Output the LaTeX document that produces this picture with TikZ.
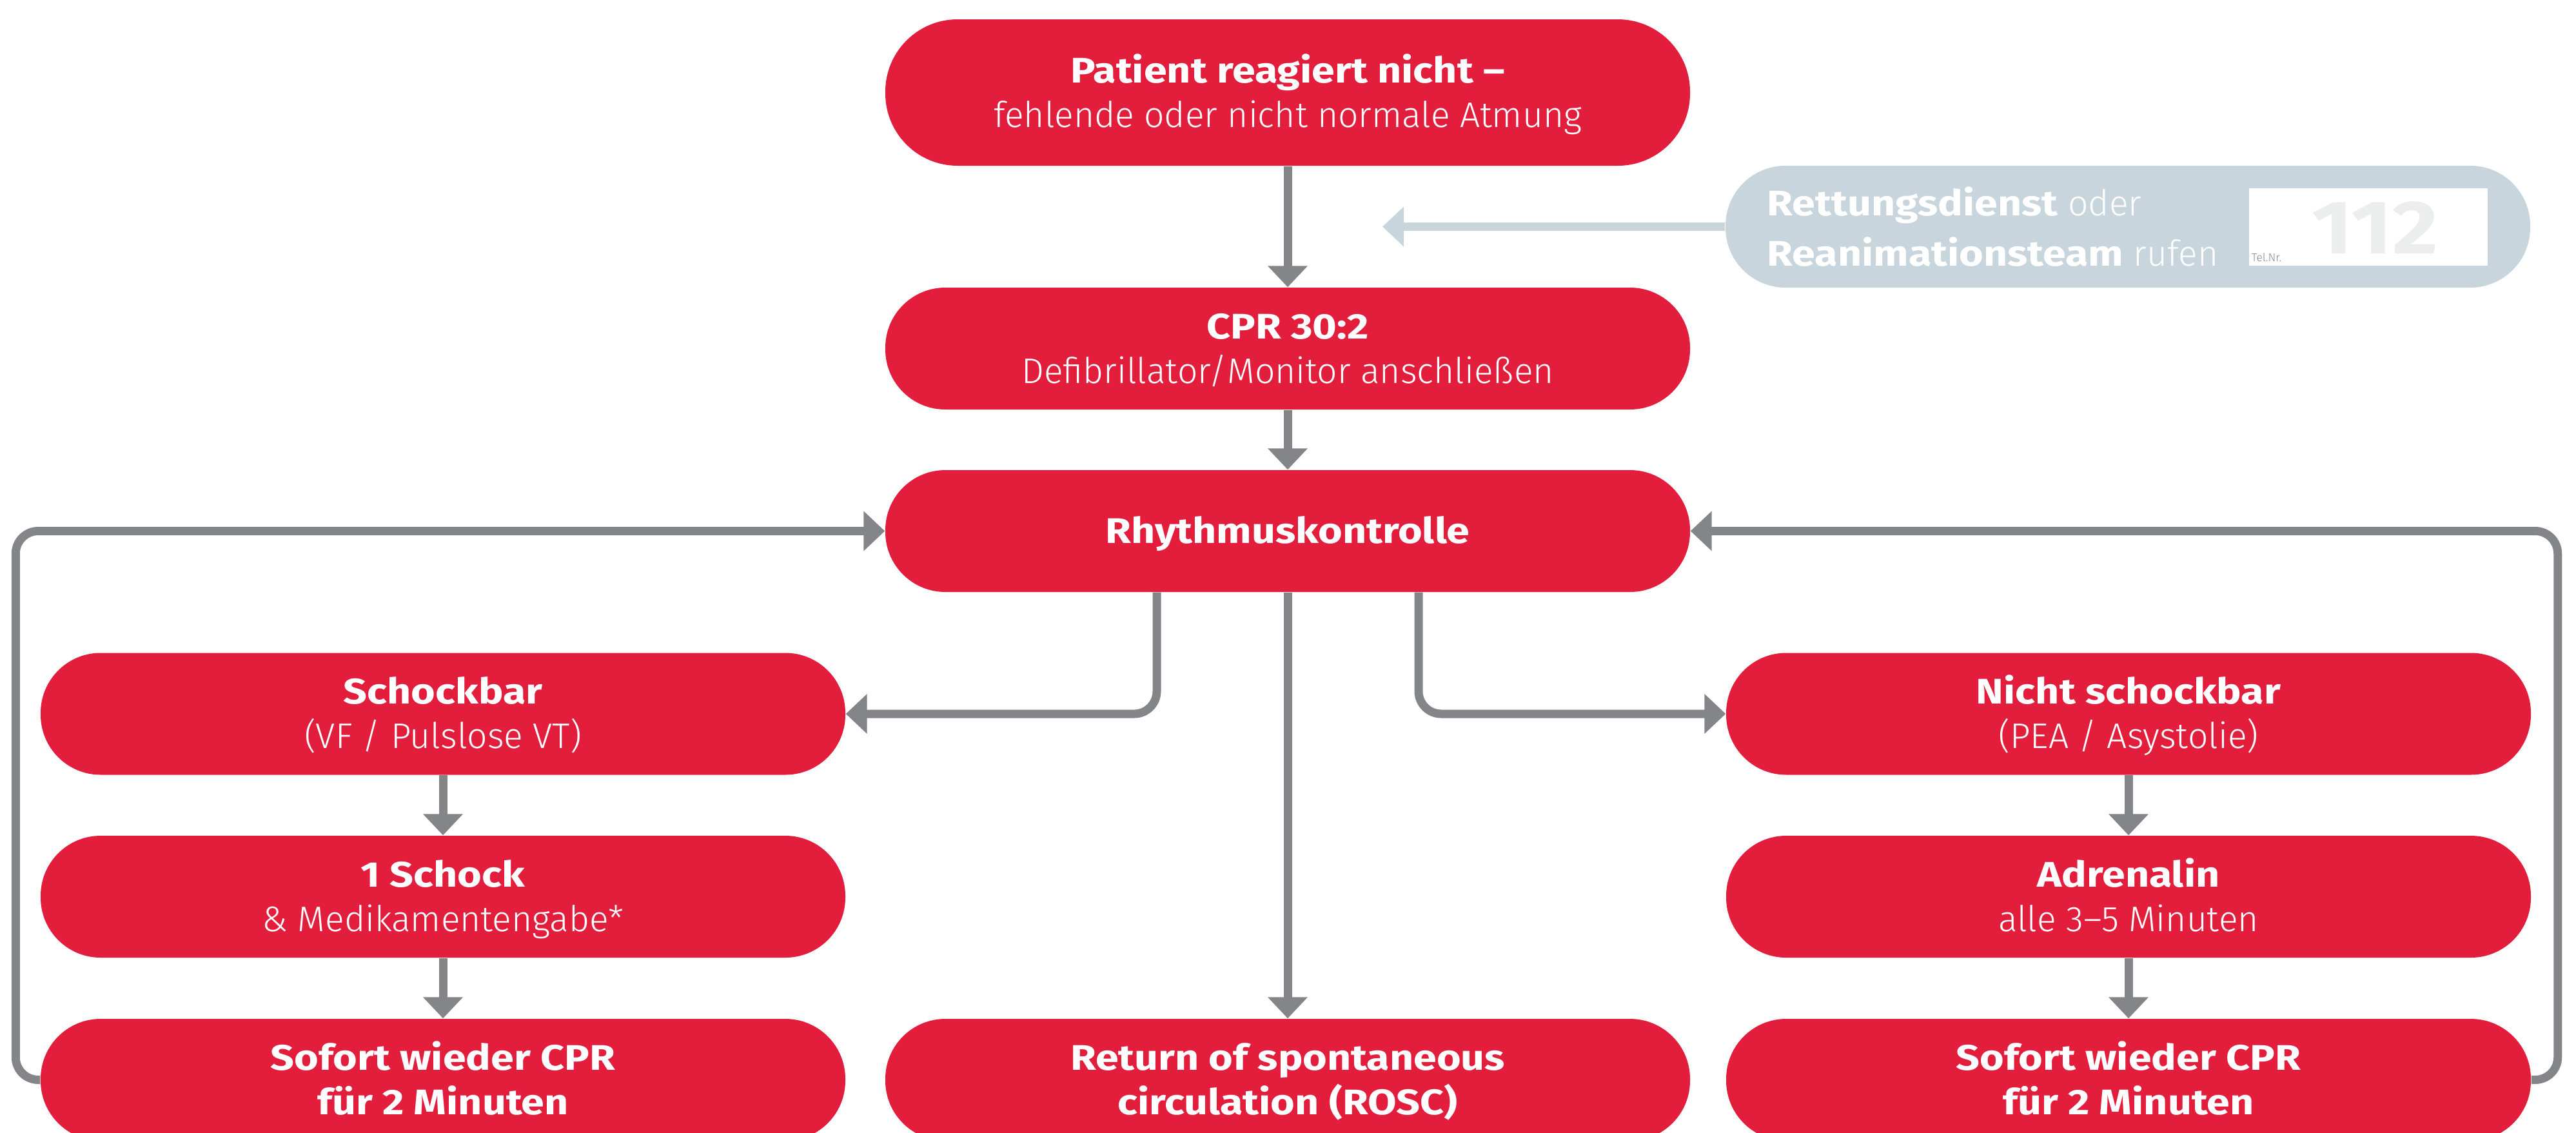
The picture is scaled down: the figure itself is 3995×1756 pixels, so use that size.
\documentclass[tikz,border=0pt]{standalone}
\usepackage{fontspec}
\setmainfont{Fira Sans}[UprightFont={* Light}, BoldFont={* Bold}, BoldFeatures={FakeStretch=1.17}]
\usetikzlibrary{arrows.meta}
\definecolor{dred}{HTML}{E31E3D}
\definecolor{agray}{HTML}{848589}
\definecolor{lgray}{HTML}{C8D5DD}
\definecolor{numgray}{HTML}{ECEDED}
\definecolor{telgray}{HTML}{8A8A8A}
\newcommand\boxfont{\fontsize{15.7pt}{19.63pt}\selectfont}
\newcommand\TL[2]{\rule{0pt}{3.8mm}\smash{#1}\\\smash{#2}}
\newcommand\OL[1]{\rule{0pt}{3.8mm}\smash{#1}}
\tikzset{
  redbox/.style={fill=dred, draw=none, rounded corners=9.3mm, minimum width=124.8mm,
    minimum height=18.9mm, text=white, align=center, inner sep=0pt, font=\boxfont},
  arr/.style={draw=agray, line width=1.3mm, rounded corners=3.5mm,
    -{Triangle[length=3.3mm,width=6mm]}},
  larr/.style={draw=lgray, line width=1.3mm, -{Triangle[length=3.3mm,width=6mm]}},
}
\begin{document}
\begin{tikzpicture}[x=0.1mm,y=-0.1mm]
\useasboundingbox (0,0) rectangle (3995,1756);
\clip (0,0) rectangle (3995,1756);
% nodes
\node[redbox, minimum height=22.7mm, rounded corners=11.2mm] (top) at (1997,143.5)
  {\TL{\textbf{Patient reagiert nicht –}}{fehlende oder nicht normale Atmung}};
\node[redbox] (cpr) at (1997,540.5)
  {\TL{\textbf{CPR 30:2}}{Defibrillator/Monitor anschließen}};
\node[redbox] (rhythm) at (1997,823.5) {\OL{\textbf{Rhythmuskontrolle}}};
\node[redbox] (schock) at (687,1107)
  {\TL{\textbf{Schockbar}}{(VF / Pulslose VT)}};
\node[redbox] (nschock) at (3301,1107)
  {\TL{\textbf{Nicht schockbar}}{(PEA / Asystolie)}};
\node[redbox] (eins) at (687,1390.5)
  {\TL{\textbf{1 Schock}}{\& Medikamentengabe*}};
\node[redbox] (adren) at (3301,1390.5)
  {\TL{\textbf{Adrenalin}}{alle 3–5 Minuten}};
\node[redbox] (sofL) at (687,1674.5)
  {\TL{\textbf{Sofort wieder CPR}}{\textbf{für 2 Minuten}}};
\node[redbox] (rosc) at (1997,1674.5)
  {\TL{\textbf{Return of spontaneous}}{\textbf{circulation (ROSC)}}};
\node[redbox] (sofR) at (3301,1674.5)
  {\TL{\textbf{Sofort wieder CPR}}{\textbf{für 2 Minuten}}};
% call box
\node[fill=lgray, draw=none, rounded corners=9.3mm, minimum width=124.8mm,
  minimum height=18.9mm, inner sep=0pt] (call) at (3300,351.5) {};
\node[fill=white, draw=none, minimum width=37mm, minimum height=12mm, inner sep=0pt]
  (tel) at (3673,352) {};
\node[anchor=base east, inner sep=0pt, text=numgray,
  font=\fontsize{33.4pt}{36pt}\selectfont\bfseries] (num) at (3782,393) {112};
\node[anchor=base west, inner sep=0pt, text=telgray,
  font=\fontsize{5pt}{6pt}\selectfont] (telnr) at (3491,405) {Tel.Nr.};
\node[anchor=base west, inner sep=0pt, text=white, font=\boxfont] (ret1) at (2740,334)
  {\textbf{Rettungsdienst} oder};
\node[anchor=base west, inner sep=0pt, text=white, font=\boxfont] (ret2) at (2740,412)
  {\textbf{Reanimationsteam} rufen};
\coordinate (callend) at (2144,351.5);
% connectors
\draw[larr] (call.west) -- (callend);
\draw[arr] (top.south) -- (cpr.north);
\draw[arr] (cpr.south) -- (rhythm.north);
\draw[arr] (rhythm.south) -- (rosc.north);
\draw[arr] ([xshift=-20.3mm]rhythm.south) |- (schock.east);
\draw[arr] ([xshift=20.3mm]rhythm.south) |- (nschock.west);
\draw[arr] (schock.south) -- (eins.north);
\draw[arr] (eins.south) -- (sofL.north);
\draw[arr] (nschock.south) -- (adren.north);
\draw[arr] (adren.south) -- (sofR.north);
\draw[arr] (sofL.west) -- ++(-38,0) |- (rhythm.west);
\draw[arr] (sofR.east) -- ++(41,0) |- (rhythm.east);
\end{tikzpicture}
\end{document}
